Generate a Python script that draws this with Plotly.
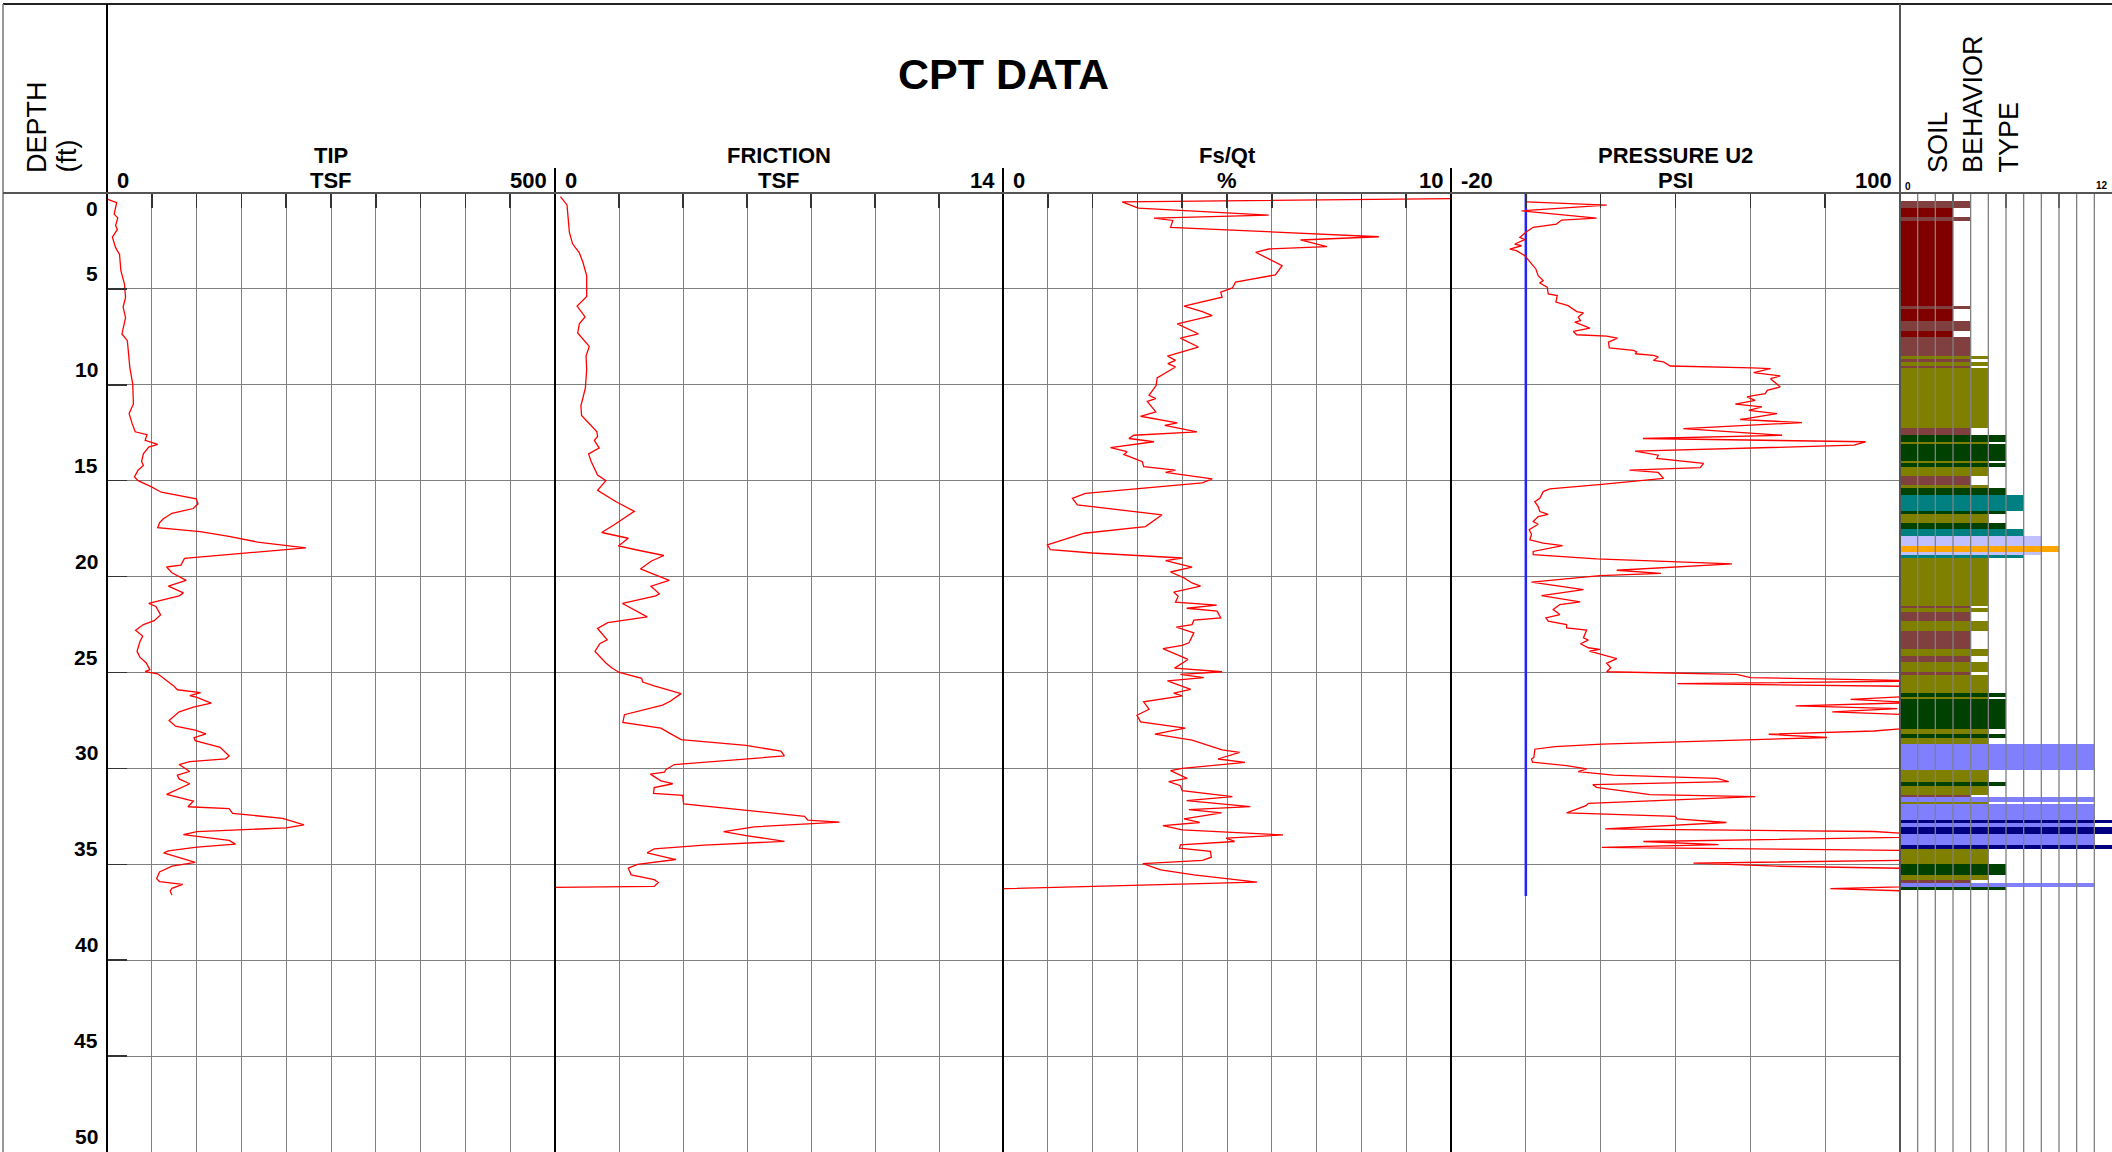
import plotly.graph_objects as go
from plotly.subplots import make_subplots

# ---------------- DATA ----------------
tip_depth = [0.33, 0.5, 1.1, 1.3, 1.7, 1.9, 2.3, 2.85, 3.2, 4.05, 4.75, 5.45, 5.95, 6.5, 7.35, 7.7, 9.1, 9.95,
             11.0, 11.5, 12.0, 12.45, 12.6, 12.9, 13.1, 13.25, 13.6, 14.0, 14.2, 14.45, 14.8, 15.0, 15.3, 15.6,
             15.95, 16.2, 16.45, 16.7, 17.0, 17.2, 17.45, 17.65, 17.9, 18.2, 18.5, 18.8, 19.05, 19.4, 19.5, 19.8,
             20.2, 20.5, 20.85, 21.0, 21.4, 21.56, 22.0, 22.3, 22.5, 22.8, 23.1, 23.4, 23.9, 24.2, 24.5, 24.85,
             24.95, 25.07, 25.4, 25.7, 25.9, 26.05, 26.2, 26.3, 26.6, 26.8, 27.05, 27.5, 27.8, 28.0, 28.2, 28.4,
             28.55, 28.9, 29.35, 29.5, 29.65, 29.8, 30.16, 30.35, 30.55, 30.8, 31.35, 31.6, 31.7, 32.0, 32.1,
             32.35, 32.6, 32.95, 33.1, 33.3, 33.45, 33.75, 33.95, 34.1, 34.3, 34.4, 34.9, 35.1, 35.4, 35.75,
             35.9, 36.05, 36.25, 36.4, 36.6]
tip_tsf = [1, 10.8, 8, 12, 9.6, 11.6, 6, 9.6, 14, 15.5, 19.5, 20.7, 18, 20.7, 16.7, 22.7, 25.5, 28.7,
           29.5, 24.7, 27.9, 31.5, 44.6, 42.6, 56.6, 46.6, 40.6, 38.6, 40.6, 34.7, 30.7, 34.7, 48.6, 60.6,
           99.6, 101.6, 96.4, 72.5, 62.5, 58.6, 56.6, 104, 136, 168, 222, 144, 86.5, 82.5, 66.5, 72.5,
           88.4, 68.5, 85.3, 80.5, 46.6, 54.6, 59.8, 52.6, 40.6, 31.9, 39.8, 36.7, 33.5, 36.7, 43.8, 47.8,
           42.6, 56.6, 66.5, 74.5, 78.5, 104.4, 92.4, 100.4, 116.3, 96.4, 80.5, 69.3, 76.5, 98.4, 110.4, 97.2,
           98.4, 126.3, 136.3, 132.3, 92.4, 80.5, 92.4, 78.5, 80.5, 92.4, 66.5, 88.4, 96.4, 90.4, 136.3,
           140.2, 196, 219.9, 200, 100.4, 85.3, 136.3, 143.4, 100.4, 68.5, 63.3, 98.4, 72.5, 58.6, 55.4,
           58.6, 84.5, 72.5, 70.5, 72.5]

fric_depth = [0.19, 0.62, 1.1, 1.57, 2.05, 2.65, 3.12, 3.6, 4.3, 5.4, 5.9, 6.46, 6.82, 7.3, 8.0, 8.5, 9.2,
              10.16, 11.1, 11.6, 12.1, 12.45, 12.7, 12.9, 13.3, 13.6, 14.0, 14.45, 14.7, 15.0, 15.5, 16.1,
              16.35, 16.6, 17.3, 17.7, 18.0, 18.4, 18.6, 18.9, 19.2, 19.6, 20.2, 20.5, 20.9, 21.0, 21.4, 21.7,
              22.1, 22.4, 22.7, 22.9, 23.3, 23.5, 23.9, 24.5, 24.75, 25.0, 25.3, 25.5, 25.7, 26.1, 26.5, 26.7,
              27.2, 27.6, 27.9, 28.2, 28.5, 28.8, 29.1, 29.35, 29.6, 29.8, 30.05, 30.2, 30.3, 30.65, 30.8,
              31.0, 31.3, 31.4, 31.85, 32.2, 32.5, 32.7, 32.8, 33.05, 33.3, 33.5, 33.8, 34.0, 34.2, 34.4,
              34.75, 35.0, 35.2, 35.55, 35.8, 35.95, 36.15, 36.2]
fric_tsf = [0.17, 0.375, 0.4, 0.42, 0.45, 0.55, 0.76, 0.87, 0.99, 0.99, 0.69, 0.94, 0.76, 0.71, 1.07, 0.97, 0.99,
            0.95, 0.81, 0.83, 1.13, 1.31, 1.33, 1.23, 1.38, 1.05, 1.13, 1.25, 1.33, 1.59, 1.33, 1.91,
            2.22, 2.48, 1.85, 1.46, 2.29, 1.98, 2.53, 3.40, 3.0, 2.67, 3.57, 3.0, 3.26, 3.15, 2.11, 2.43,
            2.88, 1.65, 1.33, 1.43, 1.63, 1.40, 1.25, 1.59, 1.77, 2.01, 2.71, 2.74, 3.1, 3.94, 3.6, 3.36,
            2.17, 2.12, 3.31, 3.62, 3.94, 5.97, 7.06, 7.17, 5.17, 3.73, 3.47, 3.42, 2.98, 3.31, 3.68,
            3.1, 3.08, 3.99, 4.02, 6.0, 7.8, 7.9, 8.89, 6.23, 5.27, 5.97, 7.17, 4.67, 3.1, 2.88,
            3.78, 2.58, 2.29, 2.38, 3.1, 3.23, 3.1, 0.0]

fsqt_depth = [0.29, 0.46, 0.79, 1.15, 1.31, 1.43, 1.79, 2.28, 2.45, 2.80, 2.92, 3.09, 3.79, 4.27, 4.65, 4.95,
              5.17, 5.43, 5.90, 6.18, 6.39, 6.82, 7.34, 7.57, 8.03, 8.38, 8.50, 8.73, 8.90, 9.07, 9.64,
              10.03, 10.55, 10.72, 10.86, 11.41, 11.64, 11.98, 12.11, 12.45, 12.63, 12.80, 12.97, 13.27,
              13.49, 13.63, 14.01, 14.27, 14.45, 14.57, 14.91, 15.11, 15.66, 15.92, 16.26, 16.78, 17.39,
              17.74, 18.0, 18.34, 18.6, 18.77, 19.03, 19.17, 19.51, 19.76, 20.07, 20.33, 20.5, 20.81, 21.02,
              21.33, 21.49, 21.65, 21.8, 22.15, 22.27, 22.5, 22.63, 22.93, 23.45, 23.59, 23.76, 24.32,
              24.77, 24.96, 25.1, 25.27, 25.44, 25.88, 26.08, 26.22, 26.53, 26.92, 27.23, 27.57, 27.9,
              28.21, 28.53, 29.03, 29.17, 29.51, 29.69, 30.0, 30.12, 30.52, 30.69, 30.9, 31.16, 31.47,
              31.68, 31.99, 32.15, 32.32, 32.63, 32.82, 32.98, 33.21, 33.47, 33.64, 33.81, 33.99, 34.16,
              34.33, 34.63, 34.8, 34.97, 35.29, 35.55, 35.93, 36.27]
fsqt_pct = [10.0, 2.66, 3.02, 5.93, 3.37, 3.79, 3.74, 8.39, 6.64, 7.23, 5.93, 5.64, 6.23, 6.08, 5.19, 5.12,
            4.86, 4.89, 4.04, 4.45, 4.67, 3.89, 4.36, 3.96, 4.36, 3.85, 3.67, 3.85, 3.68, 3.85, 3.44,
            3.42, 3.26, 3.41, 3.22, 3.41, 3.07, 3.89, 3.61, 4.33, 2.92, 2.81, 3.37, 2.40,
            2.77, 2.70, 3.11, 3.14, 3.85, 3.63, 4.67, 4.45, 1.84, 1.55, 1.66, 3.55, 3.18,
            1.81, 1.47, 0.99, 1.06, 1.99, 4.0, 3.63, 4.22, 3.74, 4.04, 4.22, 4.41, 3.81, 3.91,
            3.85, 4.77, 4.10, 4.78, 4.86, 4.26, 4.22, 3.87, 4.26, 4.15, 4.0, 3.57, 4.13,
            3.83, 4.89, 3.96, 4.48, 3.67, 4.19, 3.81, 4.0, 3.14, 3.26, 2.99, 3.07, 4.07,
            3.39, 4.22, 4.89, 5.28, 4.80, 5.40, 4.0, 3.74, 4.11, 3.70, 3.96, 4.0, 5.12,
            4.10, 5.52, 4.15, 4.88, 4.04, 4.39, 3.57, 4.0, 6.25, 4.98, 5.17, 3.96, 3.94,
            4.63, 4.65, 4.45, 3.12, 3.52, 4.26, 5.67, 0.02]

u2_depth = [0.46, 0.63, 0.93, 1.31, 1.41, 1.62, 1.79, 2.05, 2.31, 2.43, 2.66, 2.75, 2.92, 3.01, 3.27, 3.61,
            3.96, 4.31, 4.57, 4.69, 4.91, 5.26, 5.35, 5.69, 5.87, 6.18, 6.25, 6.47, 6.65, 6.73, 7.04, 7.22,
            7.39, 7.46, 7.57, 7.77, 8.08, 8.21, 8.29, 8.38, 8.47, 8.55, 8.73, 8.81, 9.02, 9.12, 9.16, 9.37,
            9.54, 9.68, 10.11, 10.29, 10.46, 10.58, 10.63, 10.81, 11.01, 11.15, 11.33, 11.5, 11.81, 11.97,
            12.28, 12.63, 12.8, 12.97, 13.15, 13.46, 13.67, 13.84, 14.1, 14.32, 14.45, 14.57, 14.88, 15.19,
            15.43, 15.57, 15.92, 16.09, 16.35, 16.61, 16.75, 16.87, 17.13, 17.27, 17.56, 17.79, 18.08,
            18.26, 18.38, 18.69, 18.86, 19.08, 19.34, 19.67, 19.83, 19.95, 20.29, 20.68, 20.99, 21.32,
            21.46, 21.72, 21.98, 22.15, 22.32, 22.5, 22.67, 22.79, 23.19, 23.31, 23.5, 23.71, 23.8, 23.88,
            24.28, 24.52, 24.75, 24.96, 25.1, 25.27, 25.44, 25.58, 25.74, 26.0, 26.22, 26.4, 26.57, 26.74,
            26.88, 27.05, 27.23, 27.55, 27.87, 28.05, 28.22, 28.39, 28.51, 28.73, 28.86, 29.0, 29.42,
            29.51, 29.68, 29.86, 30.03, 30.17, 30.35, 30.52, 30.69, 30.85, 30.99, 31.37, 31.47, 31.82,
            31.94, 32.32, 32.5, 32.63, 32.82, 33.15, 33.29, 33.55, 33.81, 33.97, 34.12, 34.3, 34.55,
            34.77, 34.94, 35.1, 35.27, 35.7, 36.1, 36.27, 36.45]
u2_psi = [0.18, 21.6, -1.16, 18.9, 9.55, 8.2, 1.96, 0.0, -1.6, -0.27, -2.95, -1.16, -4.29, -2.5, -0.27, 1.07,
          2.68, 3.3, 4.64, 3.75, 5.71, 5.98, 8.39, 8.04, 11.3, 13.6, 15.4, 14.0, 14.6, 13.1, 17.1, 12.7,
          13.6, 21.6, 24.5, 22.1, 22.3, 28.8, 29.6, 29.2, 34.1, 35.4, 34.1, 36.8, 38.6, 60.4, 65.4, 60.9,
          68.0, 65.4, 68.0, 64.5, 64.0, 60.4, 59.1, 61.3, 56.0, 63.1, 59.6, 67.1, 57.3, 73.8,
          42.1, 68.5, 31.3, 90.8, 87.7, 29.2, 35.4, 35.0, 47.5, 46.6, 27.7, 35.4, 36.8, 20.3,
          6.43, 4.64, 3.75, 2.41, 3.3, 3.75, 5.98, 3.3, 1.96, 3.3, 0.89, 1.52, 1.07,
          4.64, 9.82, 1.96, 1.96, 18.9, 55.1, 24.3, 36.1, 19.8, 1.52, 15.4, 4.2, 14.5,
          9.1, 7.3, 9.1, 5.36, 5.98, 10.9, 10.9, 16.25, 15.4, 16.7, 14.6, 16.7, 19.8, 17.0,
          24.3, 21.6, 22.7, 21.6, 56.4, 60.0, 108, 40.5, 110, 112, 105, 86.8, 104, 72.1,
          99.3, 81.9, 106, 112, 104, 93.0, 64.9, 80.5, 60.0, 20.3, 7.77, 2.41, 2.14,
          1.52, 1.79, 10.9, 16.25, 14.0, 23.4, 51.1, 54.2, 17.9, 18.9, 33.2, 61.3, 16.7,
          16.1, 10.9, 39.9, 40.4, 53.6, 21.2, 93.0, 115, 31.4, 51.5, 20.3, 112, 114,
          110, 44.8, 67.1, 120, 118, 115, 81.4, 112]

u0_depth = [0.0, 36.65]
u0_psi = [0.0, 0.0]

sbt_top = [0.42, 0.77, 1.24, 1.44, 5.88, 6.05, 6.66, 7.18, 7.49, 8.48, 8.66, 8.80, 9.00, 9.14, 12.27, 12.62,
           12.96, 13.10, 13.96, 14.10, 14.30, 14.76, 15.23, 15.40, 15.74, 16.58, 16.75, 17.19, 17.54, 17.88,
           18.39, 18.73, 18.87, 19.05, 21.53, 21.65, 21.86, 22.30, 22.82, 23.79, 24.14, 24.43, 24.96, 25.13,
           26.09, 26.27, 26.40, 27.95, 28.23, 28.43, 28.74, 30.08, 30.71, 30.90, 31.39, 31.51, 31.74, 31.86,
           32.70, 32.87, 33.05, 33.40, 34.00, 34.21, 35.00, 35.56, 35.82, 35.96, 36.17]
sbt_bottom = sbt_top[1:] + [36.35]
sbt_zone = [4, 3, 4, 3, 4, 3, 4, 3, 4, 5, 4, 5, 4, 5, 4, 6,
            5, 6, 5, 6, 5, 4, 5, 6, 7, 6, 5, 6, 7, 8,
            9, 8, 7, 5, 4, 5, 4, 5, 4, 5, 4, 5, 4, 5,
            6, 5, 6, 5, 6, 5, 11, 5, 6, 5, 4, 11, 5, 11,
            12, 11, 12, 11, 12, 5, 6, 5, 4, 11, 6]

zone_colors = {1: "#FF0000", 2: "#804000", 3: "#800000", 4: "#804040", 5: "#808000", 6: "#004000",
               7: "#008080", 8: "#C0C0FF", 9: "#FFA500", 10: "#FFFF00", 11: "#8080FF", 12: "#000080"}

# ---------------- LAYOUT HELPERS ----------------
W, H = 2112, 1152
def PX(x):
    return x / W
def PY(y):
    return 1 - y / H

edges = [107, 555, 1003, 1451, 1900, 2112]
y_top = PY(193)

BOLD = "Liberation Sans, Arial, sans-serif"
REG = "Liberation Sans, Arial, sans-serif"
GRID = "#808080"

fig = make_subplots(rows=1, cols=5, shared_yaxes=True, horizontal_spacing=0)

red = dict(color="#FF0000", width=1.3)
fig.add_trace(go.Scatter(x=tip_tsf, y=tip_depth, mode="lines", line=red, showlegend=False), row=1, col=1)
fig.add_trace(go.Scatter(x=fric_tsf, y=fric_depth, mode="lines", line=red, showlegend=False), row=1, col=2)
fig.add_trace(go.Scatter(x=fsqt_pct, y=fsqt_depth, mode="lines", line=red, showlegend=False), row=1, col=3)
fig.add_trace(go.Scatter(x=u0_psi, y=u0_depth, mode="lines", line=dict(color="#2222FF", width=2.5),
                         showlegend=False), row=1, col=4)
fig.add_trace(go.Scatter(x=u2_psi, y=u2_depth, mode="lines", line=red, showlegend=False), row=1, col=4)

sbt_mid = [(a + b) / 2 for a, b in zip(sbt_top, sbt_bottom)]
sbt_thk = [b - a for a, b in zip(sbt_top, sbt_bottom)]
fig.add_trace(go.Bar(x=sbt_zone, y=sbt_mid, width=sbt_thk, base=0, orientation="h",
                     marker=dict(color=[zone_colors[z] for z in sbt_zone], line=dict(width=0)),
                     showlegend=False), row=1, col=5)

xranges = [[0, 500], [0, 14], [0, 10], [-20, 100], [0, 12]]
xdticks = [50, 2, 1, 20, 1]
for i in range(5):
    name = "xaxis" if i == 0 else f"xaxis{i+1}"
    fig.layout[name].update(
        domain=[PX(edges[i]), PX(edges[i + 1])], range=xranges[i], dtick=xdticks[i], tick0=xranges[i][0],
        side="top", ticks="inside", ticklen=15, tickwidth=1.5, tickcolor="#333333",
        showticklabels=False, showgrid=(i < 4), gridcolor=GRID, gridwidth=1, zeroline=False,
        showline=False, layer="above traces", fixedrange=True)
    yname = "yaxis" if i == 0 else f"yaxis{i+1}"
    fig.layout[yname].update(
        domain=[0, y_top], range=[50, 0], dtick=5, tick0=0, showticklabels=False,
        showgrid=(i < 4), gridcolor=GRID, gridwidth=1, zeroline=False, showline=False,
        ticks="inside" if i == 0 else "", ticklen=20, tickwidth=1.5, tickcolor="#333333")

shapes = []
# SBT grid lines drawn above the bars
for k in range(1, 12):
    shapes.append(dict(type="line", xref="x5", yref="paper", x0=k, x1=k, y0=0, y1=y_top,
                       line=dict(color=GRID, width=1.3), layer="above"))
# frame
def line(x0, y0, x1, y1, color="#000000", width=2):
    shapes.append(dict(type="line", xref="paper", yref="paper", x0=x0, y0=y0, x1=x1, y1=y1,
                       line=dict(color=color, width=width), layer="above"))
line(PX(3), PY(4), 1, PY(4), "#222222", 2)
line(PX(3), PY(4), PX(3), 0, "#777777", 1.5)
line(PX(107), PY(4), PX(107), 0, "#000000", 2)
for xe in [555, 1003, 1451]:
    line(PX(xe), PY(168), PX(xe), 0, "#000000", 2)
line(PX(1900), PY(4), PX(1900), 0, "#555555", 2)
line(PX(3), y_top, 1, y_top, "#555555", 2)

ann = []
def text(x, y, s, size, font=BOLD, bold=True, xanchor="center", yanchor="middle", angle=0, color="#000"):
    ann.append(dict(xref="paper", yref="paper", x=PX(x), y=PY(y), text=f"<b>{s}</b>" if bold else s,
                    showarrow=False, xanchor=xanchor, yanchor=yanchor, textangle=angle,
                    font=dict(family=font, size=size, color=color)))

text(1003, 74, "CPT DATA", 43)
titles = [("TIP", "TSF", "0", "500"), ("FRICTION", "TSF", "0", "14"), ("Fs/Qt", "%", "0", "10"),
          ("PRESSURE U2", "PSI", "-20", "100")]
for i, (t1, t2, lo, hi) in enumerate(titles):
    cx = (edges[i] + edges[i + 1]) / 2
    text(cx, 155, t1, 22)
    text(cx, 180, t2, 22)
    text(edges[i] + 8, 180, lo, 22, xanchor="left")
    text(edges[i + 1] - 6, 180, hi, 22, xanchor="right")
text(1903, 186, "0", 10, xanchor="left")
text(2110, 185, "12", 10, xanchor="right")

# rotated column titles
text(37, 175, "DEPTH", 27, font=REG, bold=False, yanchor="bottom", angle=-90)
text(66, 175, "(ft)", 27, font=REG, bold=False, yanchor="bottom", angle=-90)
for xc, s in [(1938, "SOIL"), (1973, "BEHAVIOR"), (2008, "TYPE")]:
    text(xc, 175, s, 27, font=REG, bold=False, yanchor="bottom", angle=-90)

# depth labels
depth_ticks = [0, 5, 10, 15, 20, 25, 30, 35, 40, 45, 50]
for d in depth_ticks:
    ann.append(dict(xref="paper", yref="y", x=PX(100), y=d, text=f"<b>{d}</b>", showarrow=False,
                    xanchor="right", yanchor="top" if d == 0 else "bottom",
                    yshift=-2 if d == 0 else 2,
                    font=dict(family=BOLD, size=21, color="#000")))

fig.update_layout(width=W, height=H, margin=dict(l=0, r=0, t=0, b=0), paper_bgcolor="white",
                  plot_bgcolor="white", shapes=shapes, annotations=ann, showlegend=False,
                  bargap=0)

fig.write_html("out.html", config={"displayModeBar": False, "staticPlot": True},
               post_script="document.body.style.margin='0px';document.body.style.overflow='hidden';")
